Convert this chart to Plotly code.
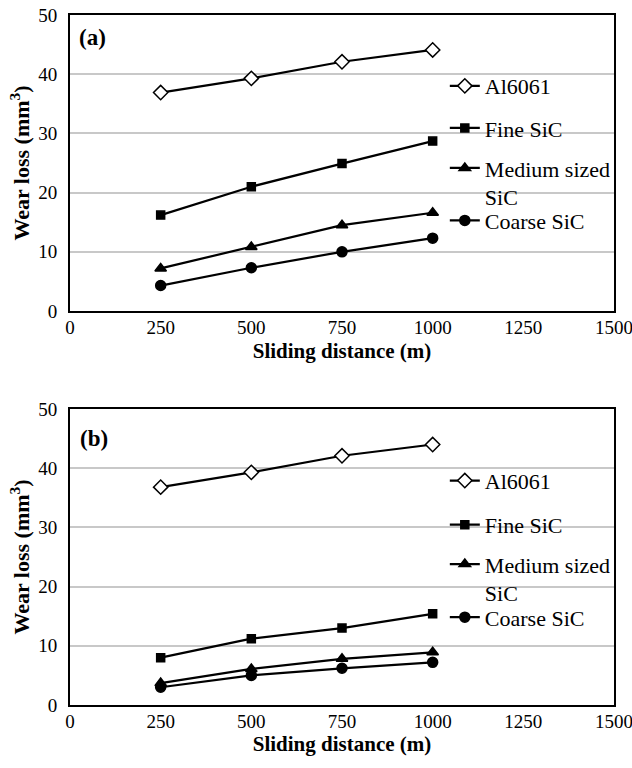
import plotly.graph_objects as go

distance = [250, 500, 750, 1000]
series_names = ["Al6061", "Fine SiC", "Medium sized<br>SiC", "Coarse SiC"]
wear_a_al6061 = [36.9, 39.3, 42.1, 44.1]
wear_a_fine = [16.2, 21.0, 24.9, 28.7]
wear_a_medium = [7.2, 10.8, 14.5, 16.6]
wear_a_coarse = [4.3, 7.3, 10.0, 12.3]
wear_b_al6061 = [36.8, 39.3, 42.1, 44.0]
wear_b_fine = [8.0, 11.2, 13.0, 15.4]
wear_b_medium = [3.7, 6.1, 7.8, 8.9]
wear_b_coarse = [3.0, 5.0, 6.2, 7.2]
x_ticks = [0, 250, 500, 750, 1000, 1250, 1500]
y_ticks = [0, 10, 20, 30, 40, 50]

SERIF = "Liberation Serif"
symbols = ["diamond", "square", "triangle-up", "circle"]
msizes = [11, 8, 10, 10]

fig = go.Figure()

panels = [
    ("x", "y", [wear_a_al6061, wear_a_fine, wear_a_medium, wear_a_coarse], 0),
    ("x2", "y2", [wear_b_al6061, wear_b_fine, wear_b_medium, wear_b_coarse], 4),
]
for xa, ya, data, off in panels:
    for i, vals in enumerate(data):
        leg = "legend" if off + i == 0 else f"legend{off + i + 1}"
        fig.add_trace(go.Scatter(
            x=distance, y=vals, xaxis=xa, yaxis=ya,
            mode="lines+markers", name=series_names[i],
            line=dict(color="black", width=2.2),
            marker=dict(symbol=symbols[i], size=msizes[i], color="white" if i == 0 else "black",
                        line=dict(color="black", width=1.5)),
            legend=leg, showlegend=True,
        ))

axis_common = dict(
    range=[0, 1500], tickvals=x_ticks, showgrid=False, showline=True, mirror=True,
    linecolor="black", linewidth=2, ticks="", zeroline=False, automargin=False,
    ticklabeloverflow="allow",
    tickfont=dict(family=SERIF, size=19, color="black"), ticklabelstandoff=-2,
)
yaxis_common = dict(
    range=[0, 50], tickvals=y_ticks, showgrid=True, gridcolor="#c8c8c8", gridwidth=1.5,
    showline=True, mirror=True, linecolor="black", linewidth=2, ticks="", zeroline=False,
    automargin=False, ticklabeloverflow="allow",
    tickfont=dict(family=SERIF, size=19, color="black"), ticklabelstandoff=7,
)
xtitle = dict(text="<b>Sliding distance (m)</b>", font=dict(family=SERIF, size=21, color="black"), standoff=6)
ytitle = dict(text="<b>Wear loss (mm<sup>3</sup>)</b>", font=dict(family=SERIF, size=22, color="black"), standoff=2)

fig.update_layout(
    width=632, height=768,
    font=dict(family=SERIF, color="black"),
    margin=dict(l=70, r=18, t=15, b=63, autoexpand=False),
    paper_bgcolor="white", plot_bgcolor="white",
    xaxis=dict(domain=[0, 1], anchor="y", title=xtitle, **axis_common),
    yaxis=dict(domain=[0.571, 1.0], anchor="x", title=ytitle, **yaxis_common),
    xaxis2=dict(domain=[0, 1], anchor="y2", title=xtitle, **axis_common),
    yaxis2=dict(domain=[0.0, 0.429], anchor="x2", title=ytitle, **yaxis_common),
)

leg_y = [0.897, 0.836, 0.757, 0.702, 0.325, 0.261, 0.183, 0.127]
for k, yy in enumerate(leg_y):
    name = "legend" if k == 0 else f"legend{k + 1}"
    fig.update_layout({name: dict(
        x=0.689, xanchor="left", y=yy, yanchor="middle",
        valign="top",
        bgcolor="rgba(0,0,0,0)", borderwidth=0,
        font=dict(family=SERIF, size=22, color="black"),
        itemwidth=30, tracegroupgap=0,
    )})

fig.add_annotation(text="<b>(a)</b>", x=0.012, y=0.968, xref="paper", yref="paper",
                   xanchor="left", yanchor="middle", showarrow=False,
                   font=dict(family=SERIF, size=23, color="black"))
fig.add_annotation(text="<b>(b)</b>", x=0.014, y=0.386, xref="paper", yref="paper",
                   xanchor="left", yanchor="middle", showarrow=False,
                   font=dict(family=SERIF, size=23, color="black"))

fig.write_html("out.html", config={"displayModeBar": False},
               post_script="document.body.style.margin='0px';")
